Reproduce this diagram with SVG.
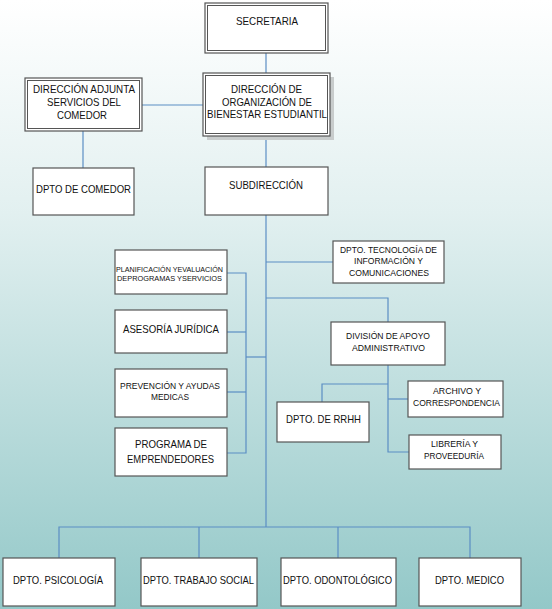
<svg xmlns="http://www.w3.org/2000/svg" width="552" height="609" viewBox="0 0 552 609">
<defs>
<linearGradient id="bg" x1="0" y1="0" x2="0" y2="1">
<stop offset="0" stop-color="#ffffff"/>
<stop offset="0.35" stop-color="#e2f0f0"/>
<stop offset="1" stop-color="#93c8c8"/>
</linearGradient>
<style>
.box{fill:#ffffff;stroke:#555555;stroke-width:1.2}
.inner{fill:none;stroke:#555555;stroke-width:1}
.shadow{fill:#c8cccc}
.ln{fill:none;stroke:#5b8ec4;stroke-width:1.2}
text{font-family:"Liberation Sans",Arial,sans-serif;fill:#111111;text-anchor:middle}
.t11{font-size:11px}
.t9{font-size:9px}
.t7{font-size:7.5px}
</style>
</defs>
<rect x="0" y="0" width="552" height="609" fill="url(#bg)"/>
<g id="connectors">
<path class="ln" d="M266 53V73"/>
<path class="ln" d="M142 105H203"/>
<path class="ln" d="M83 131V168"/>
<path class="ln" d="M266 136V167"/>
<path class="ln" d="M266 215V527"/>
<path class="ln" d="M266 262H333"/>
<path class="ln" d="M227 273H246V453H227"/>
<path class="ln" d="M227 332H246"/>
<path class="ln" d="M227 392H246"/>
<path class="ln" d="M246 357H266"/>
<path class="ln" d="M266 298H388V322"/>
<path class="ln" d="M388 365V452H409"/>
<path class="ln" d="M388 384H322V402"/>
<path class="ln" d="M388 399H408"/>
<path class="ln" d="M59 558V527H470V558"/>
<path class="ln" d="M199 527V558"/>
<path class="ln" d="M338 527V558"/>
</g>
<g id="secretaria">
<rect class="box" x="205" y="3" width="123" height="50"/>
<rect class="inner" x="207.5" y="5.5" width="118" height="45"/>
<text class="t11" x="267" y="25" textLength="62" lengthAdjust="spacingAndGlyphs">SECRETARIA</text>
</g>
<g id="direccion-bienestar">
<rect class="shadow" x="207" y="77" width="127" height="63"/>
<rect class="box" x="203" y="73" width="127" height="63"/>
<rect class="inner" x="205.5" y="75.5" width="122" height="58"/>
<text class="t11" x="266.5" y="93" textLength="71" lengthAdjust="spacingAndGlyphs">DIRECCIÓN DE</text>
<text class="t11" x="267" y="105.5" textLength="90" lengthAdjust="spacingAndGlyphs">ORGANIZACIÓN DE</text>
<text class="t11" x="267" y="118" textLength="120" lengthAdjust="spacingAndGlyphs">BIENESTAR ESTUDIANTIL</text>
</g>
<g id="direccion-adjunta">
<rect class="box" x="25" y="78" width="117" height="53"/>
<rect class="inner" x="27.5" y="80.5" width="112" height="48"/>
<text class="t11" x="84" y="93" textLength="102" lengthAdjust="spacingAndGlyphs">DIRECCIÓN ADJUNTA</text>
<text class="t11" x="84" y="106" textLength="74" lengthAdjust="spacingAndGlyphs">SERVICIOS DEL</text>
<text class="t11" x="82" y="119" textLength="50" lengthAdjust="spacingAndGlyphs">COMEDOR</text>
</g>
<g id="dpto-comedor">
<rect class="box" x="33" y="168" width="101" height="47"/>
<text class="t11" x="83.5" y="193" textLength="95" lengthAdjust="spacingAndGlyphs">DPTO DE COMEDOR</text>
</g>
<g id="subdireccion">
<rect class="box" x="205" y="167" width="123" height="48"/>
<text class="t11" x="266" y="189" textLength="74" lengthAdjust="spacingAndGlyphs">SUBDIRECCIÓN</text>
</g>
<g id="dpto-tecnologia">
<rect class="box" x="333" y="241" width="111" height="42"/>
<text class="t9" x="388.5" y="253" textLength="97" lengthAdjust="spacingAndGlyphs">DPTO. TECNOLOGÍA DE</text>
<text class="t9" x="388.5" y="264" textLength="69" lengthAdjust="spacingAndGlyphs">INFORMACIÓN Y</text>
<text class="t9" x="389" y="275.5" textLength="80" lengthAdjust="spacingAndGlyphs">COMUNICACIONES</text>
</g>
<g id="planificacion">
<rect class="box" x="115" y="250" width="112" height="44"/>
<text class="t7" x="169.5" y="272" textLength="107" lengthAdjust="spacingAndGlyphs">PLANIFICACIÓN YEVALUACIÓN</text>
<text class="t7" x="169.5" y="281" textLength="105" lengthAdjust="spacingAndGlyphs">DEPROGRAMAS YSERVICIOS</text>
</g>
<g id="asesoria">
<rect class="box" x="115" y="310" width="112" height="43"/>
<text class="t11" x="171" y="333" textLength="96" lengthAdjust="spacingAndGlyphs">ASESORÍA JURÍDICA</text>
</g>
<g id="prevencion">
<rect class="box" x="115" y="369" width="112" height="48"/>
<text class="t9" x="170" y="389" textLength="100" lengthAdjust="spacingAndGlyphs">PREVENCIÓN Y AYUDAS</text>
<text class="t9" x="170" y="400" textLength="38" lengthAdjust="spacingAndGlyphs">MEDICAS</text>
</g>
<g id="emprendedores">
<rect class="box" x="115" y="428" width="112" height="48"/>
<text class="t11" x="171" y="448" textLength="72" lengthAdjust="spacingAndGlyphs">PROGRAMA DE</text>
<text class="t11" x="170.5" y="463" textLength="87" lengthAdjust="spacingAndGlyphs">EMPRENDEDORES</text>
</g>
<g id="division-apoyo">
<rect class="box" x="331" y="322" width="114" height="43"/>
<text class="t9" x="388" y="339" textLength="84" lengthAdjust="spacingAndGlyphs">DIVISIÓN DE APOYO</text>
<text class="t9" x="388.5" y="351" textLength="73" lengthAdjust="spacingAndGlyphs">ADMINISTRATIVO</text>
</g>
<g id="dpto-rrhh">
<rect class="box" x="277" y="402" width="92" height="40"/>
<text class="t11" x="323.5" y="423" textLength="75" lengthAdjust="spacingAndGlyphs">DPTO. DE RRHH</text>
</g>
<g id="archivo">
<rect class="box" x="408" y="381" width="95" height="36"/>
<text class="t9" x="457" y="394" textLength="48" lengthAdjust="spacingAndGlyphs">ARCHIVO Y</text>
<text class="t9" x="456.5" y="406" textLength="87" lengthAdjust="spacingAndGlyphs">CORRESPONDENCIA</text>
</g>
<g id="libreria">
<rect class="box" x="409" y="435" width="92" height="34"/>
<text class="t9" x="454.5" y="447" textLength="47" lengthAdjust="spacingAndGlyphs">LIBRERÍA Y</text>
<text class="t9" x="454" y="459" textLength="60" lengthAdjust="spacingAndGlyphs">PROVEEDURÍA</text>
</g>
<g id="dpto-psicologia">
<rect class="box" x="3" y="558" width="112" height="48"/>
<text class="t11" x="58" y="584" textLength="90" lengthAdjust="spacingAndGlyphs">DPTO. PSICOLOGÍA</text>
</g>
<g id="dpto-trabajo-social">
<rect class="box" x="141" y="558" width="116" height="48"/>
<text class="t11" x="198.5" y="584" textLength="111" lengthAdjust="spacingAndGlyphs">DPTO. TRABAJO SOCIAL</text>
</g>
<g id="dpto-odontologico">
<rect class="box" x="281" y="558" width="115" height="48"/>
<text class="t11" x="337.5" y="584" textLength="109" lengthAdjust="spacingAndGlyphs">DPTO. ODONTOLÓGICO</text>
</g>
<g id="dpto-medico">
<rect class="box" x="419" y="558" width="102" height="48"/>
<text class="t11" x="469.5" y="584" textLength="69" lengthAdjust="spacingAndGlyphs">DPTO. MEDICO</text>
</g>
</svg>
